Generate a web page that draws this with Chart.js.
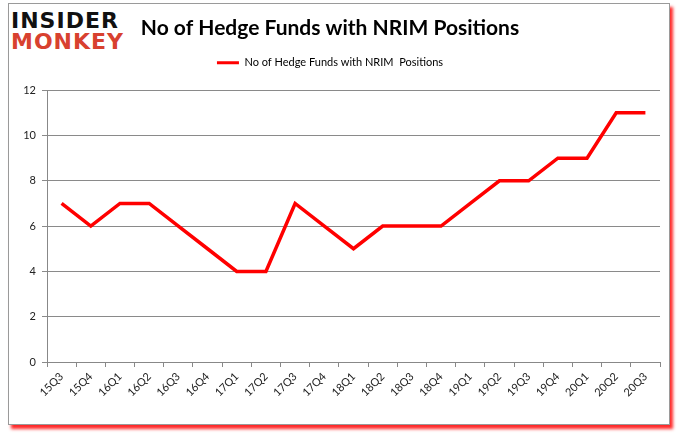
<!DOCTYPE html>
<html>
<head>
<meta charset="utf-8">
<script src="https://cdn.jsdelivr.net/npm/chart.js@4"></script>
<style>
  body { margin:0; background:#fff; width:680px; height:433px; overflow:hidden; position:relative; }
  #frame { position:absolute; left:8px; top:3px; width:660px; height:420px; border:1px solid #9a9a9a;
           box-shadow: 3px 4px 3px #ff2a2a; background:#fff; }
  #logo { position:absolute; left:11px; top:10px; font-family:"DejaVu Sans", sans-serif; font-weight:bold;
          font-size:22px; line-height:21px; letter-spacing:1px; }
  #logo .a { color:#111; }
  #logo .b { color:#d8412f; }
  #box { position:absolute; left:0; top:0; width:680px; height:433px; }
</style>
</head>
<body>
<div id="frame"></div>
<div id="logo"><div class="a">INSIDER</div><div class="b">MONKEY</div></div>
<div id="box"><canvas id="myChart" width="680" height="433"></canvas></div>
<script>
// quarters on the x axis
const quarters = ['15Q3','15Q4','16Q1','16Q2','16Q3','16Q4','17Q1','17Q2','17Q3','17Q4',
                  '18Q1','18Q2','18Q3','18Q4','19Q1','19Q2','19Q3','19Q4','20Q1','20Q2','20Q3'];
// number of hedge funds holding NRIM each quarter
const funds = [7,6,7,7,6,5,4,4,7,6,5,6,6,6,7,8,8,9,9,11,11];
const yTicks = [0,2,4,6,8,10,12];
const seriesName = 'No of Hedge Funds with NRIM  Positions';

// give the legend some extra room below it
const legendGap = {
  id: 'legendGap',
  beforeInit(chart) {
    const fit = chart.legend.fit;
    chart.legend.fit = function() {
      fit.bind(chart.legend)();
      this.height += 12;
    };
  }
};

const ctx = document.getElementById('myChart').getContext('2d');
const myChart = new Chart(ctx, {
  type: 'line',
  data: {
    labels: quarters,
    datasets: [{
      label: seriesName,
      data: funds,
      borderColor: '#ff0000',
      backgroundColor: '#ff0000',
      borderWidth: 3.5,
      pointRadius: 0,
      tension: 0
    }]
  },
  options: {
    responsive: false,
    animation: false,
    layout: { padding: { left: 0, right: 20, top: 10, bottom: 0 } },
    plugins: {
      title: {
        display: true,
        text: 'No of Hedge Funds with NRIM Positions',
        color: '#000',
        font: { family: 'Lato', size: 21, weight: 'bold' },
        padding: { top: 6, bottom: 10 }
      },
      legend: {
        labels: {
          color: '#111',
          font: { family: 'Lato', size: 11 },
          boxWidth: 22,
          boxHeight: 0,
          padding: 6,
          generateLabels: function(chart) {
            return [{ text: seriesName, strokeStyle: '#ff0000', fillStyle: '#ff0000', lineWidth: 3, datasetIndex: 0 }];
          }
        }
      },
      tooltip: { enabled: false }
    },
    scales: {
      x: {
        offset: true,
        grid: { offset: true, drawOnChartArea: false, drawTicks: true, tickLength: 5, color: '#888' },
        border: { color: '#888' },
        ticks: { color: '#222', font: { family: 'Lato', size: 11 }, maxRotation: 45, minRotation: 45, autoSkip: false },
        afterFit: function(scale) { scale.height = 71; }
      },
      y: {
        min: 0, max: 12,
        afterBuildTicks: function(scale) { scale.ticks = yTicks.map(v => ({ value: v })); },
        grid: { color: '#8a8a8a', tickLength: 5 },
        border: { color: '#888' },
        ticks: { color: '#222', font: { family: 'Lato', size: 11 }, padding: 6 },
        afterFit: function(scale) { scale.width = 47; }
      }
    }
  },
  plugins: [legendGap]
});
</script>
</body>
</html>
